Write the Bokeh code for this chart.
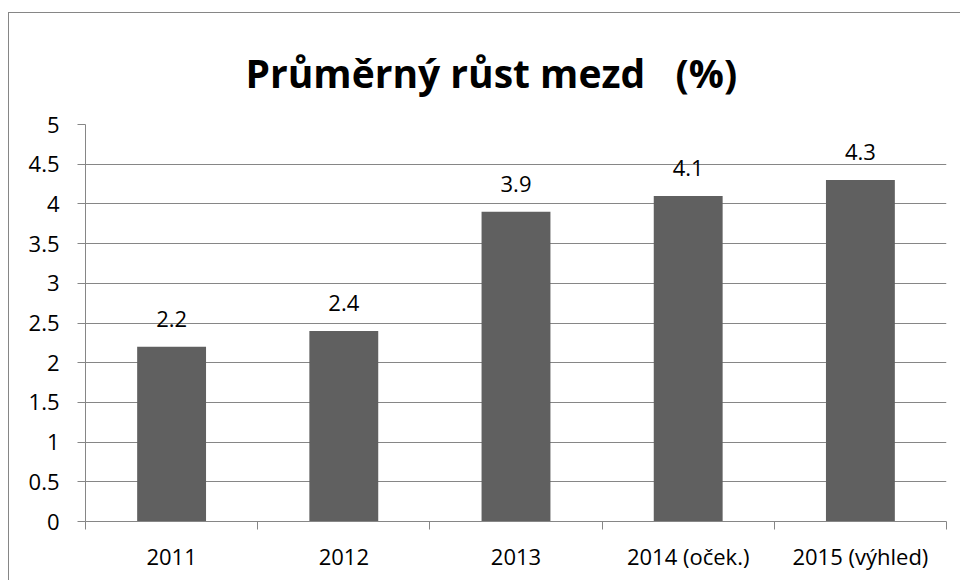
from bokeh.plotting import figure
from bokeh.models import Range1d, FixedTicker, ColumnDataSource
from bokeh.core.properties import value
from bokeh.embed import file_html
from bokeh.resources import INLINE

categories = ["2011", "2012", "2013", "2014 (oček.)", "2015 (výhled)"]
values = [2.2, 2.4, 3.9, 4.1, 4.3]
value_labels = ["2.2", "2.4", "3.9", "4.1", "4.3"]
y_tick_values = [0, 0.5, 1, 1.5, 2, 2.5, 3, 3.5, 4, 4.5, 5]
y_tick_labels = ["0", "0.5", "1", "1.5", "2", "2.5", "3", "3.5", "4", "4.5", "5"]
title_text = "Průměrný růst mezd\u00a0\u00a0 (%)"

FONT = "Open Sans"
GRAY = "#868686"
BAR = "#606060"

n = len(categories)
centers = [i + 0.5 for i in range(n)]
bounds = list(range(n + 1))

src = ColumnDataSource(dict(x=centers, top=values, lab=value_labels, cat=categories))

p = figure(width=952, height=568, output_backend="svg", toolbar_location=None,
           x_range=Range1d(0, n), y_range=Range1d(0, 5),
           min_border_left=76, min_border_right=15, min_border_top=111, min_border_bottom=60,
           title=title_text)
p.styles = {"border-left": "1px solid #868686", "border-top": "1px solid #868686",
            "margin-left": "8px", "margin-top": "12px"}

p.title.text_font = FONT
p.title.text_font_size = "39px"
p.title.text_font_style = "bold"
p.title.align = "left"
p.title.offset = 160
p.title.text_color = "#000000"
p.title.standoff = 51

p.vbar(x="x", top="top", width=0.4, bottom=0, source=src, fill_color=BAR, line_color=None)
p.text(x="x", y="top", text="lab", source=src, text_align="center", text_baseline="alphabetic",
       y_offset=-28, text_font=value(FONT), text_font_size="22px", text_color="#000000")

p.outline_line_color = None
p.background_fill_color = "white"
p.border_fill_color = "white"

# y axis
ya = p.yaxis[0]
ya.ticker = FixedTicker(ticks=y_tick_values)
ya.major_label_overrides = {v: l for v, l in zip(y_tick_values, y_tick_labels)}
ya.axis_line_color = GRAY
ya.major_tick_line_color = GRAY
ya.major_tick_out = 8
ya.major_tick_in = 0
ya.minor_tick_line_color = None
ya.major_label_standoff = 18
ya.major_label_text_font = FONT
ya.major_label_text_font_size = "22px"
ya.major_label_text_color = "#000000"

# x axis: labels at centres, tick marks at category boundaries
xa = p.xaxis[0]
xa.ticker = FixedTicker(ticks=centers, minor_ticks=bounds)
xa.major_label_overrides = {c: l for c, l in zip(centers, categories)}
xa.axis_line_color = GRAY
xa.major_tick_line_color = None
xa.major_tick_out = 0
xa.major_tick_in = 0
xa.minor_tick_line_color = GRAY
xa.minor_tick_out = 8
xa.minor_tick_in = 0
xa.major_label_standoff = 11
xa.major_label_text_font = FONT
xa.major_label_text_font_size = "22px"
xa.major_label_text_color = "#000000"

p.xgrid.grid_line_color = None
p.ygrid.ticker = FixedTicker(ticks=y_tick_values)
p.ygrid.grid_line_color = GRAY
p.ygrid.grid_line_width = 1

open("out.html", "w").write(file_html(p, INLINE))
